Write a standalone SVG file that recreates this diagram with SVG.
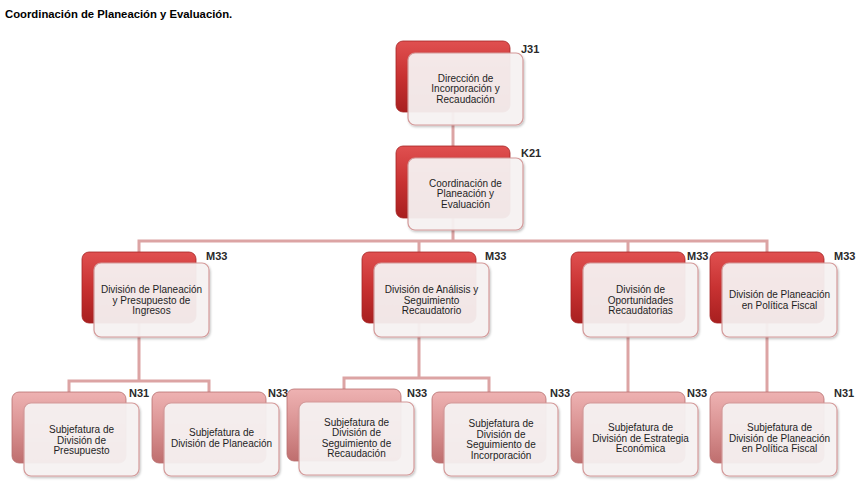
<svg xmlns="http://www.w3.org/2000/svg" width="863" height="489" viewBox="0 0 863 489">
<defs>
<linearGradient id="gDark" x1="0" y1="0" x2="0" y2="1">
<stop offset="0" stop-color="#e05050"/>
<stop offset="0.5" stop-color="#c83232"/>
<stop offset="1" stop-color="#a81f1f"/>
</linearGradient>
<linearGradient id="gPink" x1="0" y1="0" x2="0" y2="1">
<stop offset="0" stop-color="#eeb2b2"/>
<stop offset="0.5" stop-color="#d99292"/>
<stop offset="1" stop-color="#bf6e6e"/>
</linearGradient>
<filter id="sh" x="-10%" y="-10%" width="125%" height="130%">
<feDropShadow dx="1" dy="1.5" stdDeviation="1.2" flood-color="#000" flood-opacity="0.25"/>
</filter>
</defs>
<style>
.dk{fill:url(#gDark);stroke:#a42424;stroke-width:0.8}
.pk{fill:url(#gPink);stroke:#b87070;stroke-width:0.8}
.lt{fill:#f8f3f3;fill-opacity:0.93;stroke:#d49a9a;stroke-width:1.2;filter:url(#sh)}
.tx{font-family:"Liberation Sans",Arial,sans-serif;font-size:10px;fill:#1e1e1e;text-anchor:middle}
.lb{font-family:"Liberation Sans",Arial,sans-serif;font-size:11px;font-weight:bold;fill:#2a2a2a}
.cn{fill:none;stroke:#dca4a4;stroke-width:3}
.title{font-family:"Liberation Sans",Arial,sans-serif;font-size:11.3px;font-weight:bold;fill:#000}
</style>
<rect width="863" height="489" fill="#fff"/>
<text class="title" x="5" y="18">Coordinación de Planeación y Evaluación.</text>

<g id="connectors">
<path class="cn" d="M453 112V146"/>
<path class="cn" d="M453 218V241M139 252V241H767V252M419 241V252M628 241V252"/>
<path class="cn" d="M139 323V381M69 392V381H209V392"/>
<path class="cn" d="M419 323V378M344 389V378H489V392"/>
<path class="cn" d="M628 323V392"/>
<path class="cn" d="M767 323V392"/>
</g>

<g id="n-j31">
<rect class="dk" x="396" y="41" width="114" height="71" rx="7"/>
<rect class="lt" x="408" y="53" width="115" height="72" rx="7"/>
<text class="tx" x="465.5"><tspan x="465.5" y="81.5">Dirección de</tspan><tspan x="465.5" y="92">Incorporación y</tspan><tspan x="465.5" y="102.5">Recaudación</tspan></text>
<text class="lb" x="521" y="53">J31</text>
</g>

<g id="n-k21">
<rect class="dk" x="396" y="146" width="114" height="72" rx="7"/>
<rect class="lt" x="408" y="158" width="115" height="72" rx="7"/>
<text class="tx"><tspan x="465.5" y="186.5">Coordinación de</tspan><tspan x="465.5" y="197">Planeación y</tspan><tspan x="465.5" y="207.5">Evaluación</tspan></text>
<text class="lb" x="521" y="157">K21</text>
</g>

<g id="n-m33a">
<rect class="dk" x="82" y="252" width="114" height="71" rx="7"/>
<rect class="lt" x="94" y="263" width="115" height="74" rx="7"/>
<text class="tx"><tspan x="151.5" y="293">División de Planeación</tspan><tspan x="151.5" y="303.5">y Presupuesto de</tspan><tspan x="151.5" y="314">Ingresos</tspan></text>
<text class="lb" x="206" y="260">M33</text>
</g>

<g id="n-m33b">
<rect class="dk" x="362" y="252" width="114" height="71" rx="7"/>
<rect class="lt" x="374" y="263" width="115" height="74" rx="7"/>
<text class="tx"><tspan x="431.5" y="293">División de Análisis y</tspan><tspan x="431.5" y="303.5">Seguimiento</tspan><tspan x="431.5" y="314">Recaudatorio</tspan></text>
<text class="lb" x="485" y="260">M33</text>
</g>

<g id="n-m33c">
<rect class="dk" x="571" y="252" width="114" height="71" rx="7"/>
<rect class="lt" x="583" y="263" width="115" height="74" rx="7"/>
<text class="tx"><tspan x="640.5" y="293">División de</tspan><tspan x="640.5" y="303.5">Oportunidades</tspan><tspan x="640.5" y="314">Recaudatorias</tspan></text>
<text class="lb" x="687" y="260">M33</text>
</g>

<g id="n-m33d">
<rect class="dk" x="710" y="252" width="114" height="71" rx="7"/>
<rect class="lt" x="722" y="263" width="115" height="74" rx="7"/>
<text class="tx"><tspan x="779.5" y="298">División de Planeación</tspan><tspan x="779.5" y="308.5">en Política Fiscal</tspan></text>
<text class="lb" x="834" y="260">M33</text>
</g>

<g id="n-n31a">
<rect class="pk" x="12" y="392" width="114" height="71" rx="7"/>
<rect class="lt" x="24" y="403" width="115" height="73" rx="7"/>
<text class="tx"><tspan x="81.5" y="433">Subjefatura de</tspan><tspan x="81.5" y="443.5">División de</tspan><tspan x="81.5" y="454">Presupuesto</tspan></text>
<text class="lb" x="129" y="397">N31</text>
</g>

<g id="n-n33a">
<rect class="pk" x="152" y="392" width="114" height="71" rx="7"/>
<rect class="lt" x="164" y="403" width="115" height="73" rx="7"/>
<text class="tx"><tspan x="221.5" y="436">Subjefatura de</tspan><tspan x="221.5" y="446.5">División de Planeación</tspan></text>
<text class="lb" x="268" y="397">N33</text>
</g>

<g id="n-n33b">
<rect class="pk" x="287" y="389" width="114" height="72" rx="7"/>
<rect class="lt" x="299" y="402" width="115" height="73" rx="7"/>
<text class="tx"><tspan x="356.5" y="425.5">Subjefatura de</tspan><tspan x="356.5" y="436">División de</tspan><tspan x="356.5" y="446.5">Seguimiento de</tspan><tspan x="356.5" y="457">Recaudación</tspan></text>
<text class="lb" x="407" y="397">N33</text>
</g>

<g id="n-n33c">
<rect class="pk" x="432" y="392" width="114" height="71" rx="7"/>
<rect class="lt" x="444" y="403" width="114" height="73" rx="7"/>
<text class="tx"><tspan x="501" y="427">Subjefatura de</tspan><tspan x="501" y="437.5">División de</tspan><tspan x="501" y="448">Seguimiento de</tspan><tspan x="501" y="458.5">Incorporación</tspan></text>
<text class="lb" x="550" y="397">N33</text>
</g>

<g id="n-n33d">
<rect class="pk" x="571" y="392" width="114" height="71" rx="7"/>
<rect class="lt" x="583" y="403" width="115" height="73" rx="7"/>
<text class="tx"><tspan x="640.5" y="431">Subjefatura de</tspan><tspan x="640.5" y="441.5">División de Estrategia</tspan><tspan x="640.5" y="452">Económica</tspan></text>
<text class="lb" x="687" y="397">N33</text>
</g>

<g id="n-n31b">
<rect class="pk" x="710" y="392" width="114" height="71" rx="7"/>
<rect class="lt" x="722" y="403" width="115" height="73" rx="7"/>
<text class="tx"><tspan x="779.5" y="431">Subjefatura de</tspan><tspan x="779.5" y="441.5">División de Planeación</tspan><tspan x="779.5" y="452">en Política Fiscal</tspan></text>
<text class="lb" x="834" y="397">N31</text>
</g>
</svg>
